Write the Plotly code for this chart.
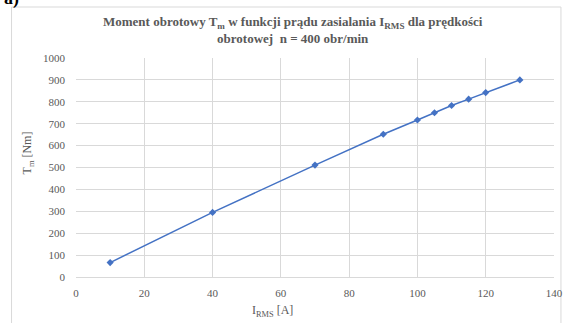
import plotly.graph_objects as go

# Data
current_rms = [10, 40, 70, 90, 100, 105, 110, 115, 120, 130]
torque_nm = [66, 295, 511, 652, 717, 750, 783, 812, 842, 900]

x_ticks = [0, 20, 40, 60, 80, 100, 120, 140]
y_ticks = [0, 100, 200, 300, 400, 500, 600, 700, 800, 900, 1000]

title_text = ("Moment obrotowy T<sub>m</sub> w funkcji prądu zasialania I<sub>RMS</sub> dla prędkości"
              "<br>obrotowej  n = 400 obr/min")
x_title = "I<sub>RMS</sub> [A]"
y_title = "T<sub>m</sub> [Nm]"

W, H = 575, 323
L, R, T, B = 76, 558, 58, 277  # plot area in pixels


def px(xp):
    return (xp - L) / (R - L)


def py(yp):
    return (B - yp) / (B - T)


FONT = "Liberation Serif"
GRAY = "#595959"
GRID = "#D9D9D9"

fig = go.Figure()
fig.add_trace(go.Scatter(
    x=current_rms, y=torque_nm, mode="lines+markers",
    line=dict(color="#4472C4", width=1.5),
    marker=dict(symbol="diamond", size=5.5, color="#4472C4"),
    showlegend=False, cliponaxis=False,
))

fig.update_layout(
    width=W, height=H,
    margin=dict(l=L, r=W - R, t=T, b=H - B, pad=0),
    paper_bgcolor="white", plot_bgcolor="white",
    font=dict(family=FONT, color=GRAY, size=11),
    xaxis=dict(range=[0, 140], tickvals=x_ticks, showgrid=True, gridcolor=GRID,
               gridwidth=1, zeroline=False, showline=True, linecolor=GRID,
               ticks="", ticklabelstandoff=6,
               tickfont=dict(family=FONT, size=11, color=GRAY)),
    yaxis=dict(range=[0, 1000], tickvals=y_ticks, showgrid=True, gridcolor=GRID,
               gridwidth=1, zeroline=False, showline=False,
               ticks="", ticklabelstandoff=10,
               tickfont=dict(family=FONT, size=11, color=GRAY)),
)

fig.add_shape(type="rect", xref="paper", yref="paper",
              x0=px(11), x1=px(565), y0=py(340), y1=py(7),
              line=dict(color=GRID, width=1), fillcolor="rgba(0,0,0,0)", layer="below")

fig.add_annotation(text="<b>" + title_text + "</b>", xref="paper", yref="paper",
                   x=px(295), y=py(30), xanchor="center", yanchor="middle",
                   showarrow=False, align="center",
                   font=dict(family=FONT, size=13, color=GRAY))
fig.add_annotation(text=x_title, xref="paper", yref="paper",
                   x=px(274), y=py(311), xanchor="center", yanchor="middle",
                   showarrow=False, font=dict(family=FONT, size=12, color=GRAY))
fig.add_annotation(text=y_title, xref="paper", yref="paper",
                   x=px(28), y=py(153), xanchor="center", yanchor="middle",
                   textangle=-90, showarrow=False,
                   font=dict(family=FONT, size=12, color=GRAY))
fig.add_annotation(text="<b>a)</b>", xref="paper", yref="paper",
                   x=px(1), y=py(-2), xanchor="left", yanchor="middle",
                   showarrow=False, font=dict(family=FONT, size=18, color="black"))

fig.write_html("out.html")
